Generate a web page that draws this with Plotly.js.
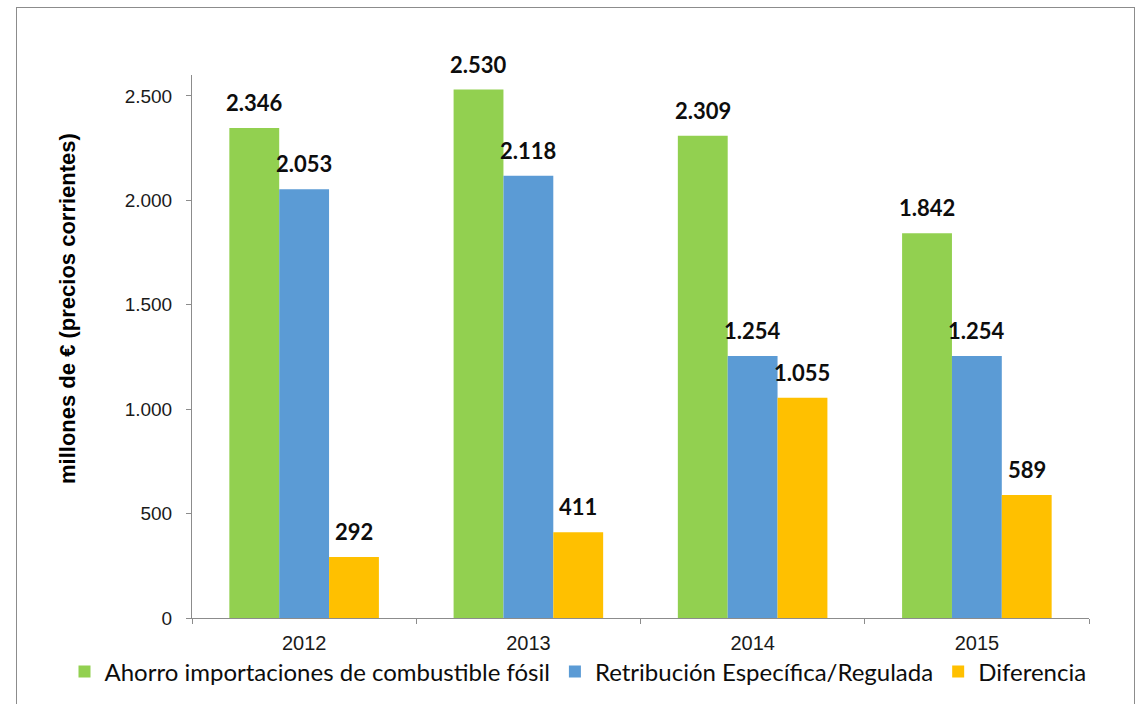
<!DOCTYPE html>
<html>
<head>
<meta charset="utf-8">
<script src="https://cdn.plot.ly/plotly-3.0.1.min.js"></script>
<style>
  html, body { margin: 0; padding: 0; background: #fff; }
  #wrap { position: relative; width: 1136px; height: 704px; overflow: hidden; }
  #chart { position: absolute; left: 0; top: 0; width: 1136px; height: 704px; }
  #frame { position: absolute; left: 16px; top: 7px; width: 1117px; height: 720px; border: 1px solid #8c8c8c; pointer-events: none; }
</style>
</head>
<body>
<div id="wrap"><div id="chart"></div><div id="frame"></div></div>
<script>
const years = ['2012', '2013', '2014', '2015'];
const seriesNames = ['Ahorro importaciones de combustible fósil', 'Retribución Específica/Regulada', 'Diferencia'];
const ahorro = [2346, 2530, 2309, 1842];
const retribucion = [2053, 2118, 1254, 1254];
const diferencia = [292, 411, 1055, 589];
const yTitle = 'millones de € (precios corrientes)';

const colors = ['#92D050', '#5B9BD5', '#FFC000'];
const values = [ahorro, retribucion, diferencia];

// layout geometry (style)
const W = 1136, H = 704;
const mL = 10, mR = 10, mT = 75, mB = 86;
const paperW = W - mL - mR, paperH = H - mT - mB;
const axL = 192, axR = 1089;            // plot area in pixels
const plotW = axR - axL;
const bargap = 0.333;
const catW = plotW / years.length;
const barW = catW * (1 - bargap) / values.length;
const px = p => (p - mL) / paperW;       // pixel -> paper x
const py = p => (H - mB - p) / paperH;   // pixel -> paper y

function fmt(v) {
  return String(Math.round(v)).replace(/\B(?=(\d{3})+(?!\d))/g, '.');
}

const traces = values.map((vals, i) => ({
  type: 'bar',
  name: seriesNames[i],
  x: years,
  y: vals,
  marker: { color: colors[i], line: { width: 0 } },
  hoverinfo: 'skip',
  cliponaxis: false
}));

const annotations = [];
values.forEach((vals, i) => {
  vals.forEach((v, j) => {
    annotations.push({
      x: j, y: v, xref: 'x', yref: 'y',
      text: fmt(v), showarrow: false,
      xanchor: 'center', yanchor: 'bottom',
      xshift: (i - (values.length - 1) / 2) * barW,
      yshift: 10,
      font: { family: 'Lato, "Open Sans", sans-serif', size: 22, color: '#0d0d0d', weight: 'bold' }
    });
  });
});
annotations.push({
  xref: 'paper', yref: 'paper',
  x: px(67), y: py(309),
  text: '<b>' + yTitle + '</b>', showarrow: false, textangle: -90,
  xanchor: 'center', yanchor: 'middle',
  font: { family: '"Liberation Sans", Arial, sans-serif', size: 22, color: '#000' }
});

const layout = {
  width: W, height: H, autosize: false,
  margin: { l: mL, r: mR, t: mT, b: mB, pad: 0 },
  paper_bgcolor: 'rgba(0,0,0,0)', plot_bgcolor: 'rgba(0,0,0,0)',
  separators: ',.',
  barmode: 'group', bargap: bargap, bargroupgap: 0,
  showlegend: true,
  legend: {
    orientation: 'h', x: px(578), xanchor: 'center',
    y: py(672), yanchor: 'middle',
    font: { family: 'Lato, "Open Sans", sans-serif', size: 24, color: '#0d0d0d' },
    itemwidth: 30, traceorder: 'normal', bgcolor: 'rgba(0,0,0,0)'
  },
  xaxis: {
    type: 'category', domain: [px(axL), px(axR)], range: [-0.5, years.length - 0.5],
    showgrid: false, zeroline: false, fixedrange: true,
    showline: true, linecolor: '#8c8c8c', linewidth: 1,
    ticks: 'outside', tickson: 'boundaries', ticklen: 5, tickcolor: '#8c8c8c',
    tickfont: { family: '"Liberation Sans", Arial, sans-serif', size: 20, color: '#1a1a1a' },
    ticklabelstandoff: 7
  },
  yaxis: {
    range: [0, 2600], tickvals: [0, 500, 1000, 1500, 2000, 2500],
    separatethousands: true, tickformat: ',d',
    showgrid: false, zeroline: false,
    showline: true, linecolor: '#8c8c8c', linewidth: 1,
    ticks: 'outside', ticklen: 5, tickcolor: '#8c8c8c',
    tickfont: { family: '"Liberation Sans", Arial, sans-serif', size: 19, color: '#1a1a1a' },
    ticklabelstandoff: 10
  },
  annotations: annotations
};

Plotly.newPlot('chart', traces, layout, { staticPlot: true, displayModeBar: false });
</script>
</body>
</html>
